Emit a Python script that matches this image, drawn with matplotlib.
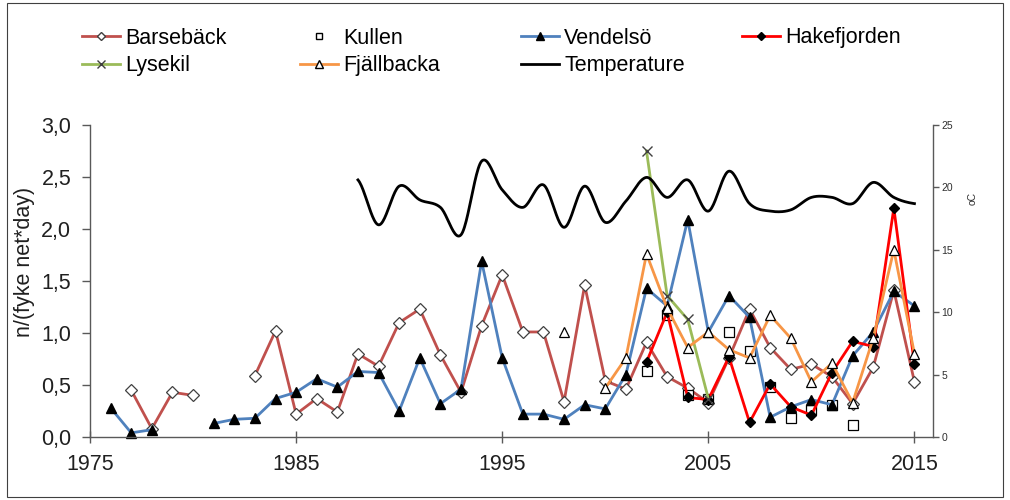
import numpy as np
import matplotlib
matplotlib.use("Agg")
import matplotlib.pyplot as plt
from matplotlib.lines import Line2D
from matplotlib.patches import Rectangle

plt.rcParams['font.family'] = ['Liberation Sans', 'DejaVu Sans']

nan = np.nan
years = np.arange(1976, 2016)

# catch per fyke net and day, one value per year 1976-2015 (nan = no sampling)
barseback = [nan, 0.45, 0.08, 0.43, 0.40, nan, nan, 0.59, 1.02, 0.22,
             0.37, 0.24, 0.80, 0.68, 1.10, 1.23, 0.79, 0.43, 1.07, 1.56,
             1.01, 1.01, 0.34, 1.46, 0.54, 0.46, 0.91, 0.58, 0.47, 0.33,
             0.76, 1.23, 0.86, 0.65, 0.70, 0.58, 0.32, 0.67, 1.41, 0.53]
vendelso = [0.28, 0.04, 0.07, nan, nan, 0.13, 0.17, 0.18, 0.37, 0.43,
            0.56, 0.48, 0.63, 0.62, 0.25, 0.76, 0.32, 0.46, 1.69, 0.76,
            0.22, 0.22, 0.17, 0.31, 0.27, 0.60, 1.43, 1.26, 2.09, 1.01,
            1.36, 1.15, 0.19, 0.29, 0.36, 0.31, 0.78, 1.01, 1.40, 1.26]

late_years = np.arange(2002, 2016)
kullen = [0.63, 1.17, 0.40, 0.37, 1.01, 0.83, 0.48, 0.18, 0.26, 0.31, 0.12,
          nan, nan, nan]
hakefjorden = [0.72, 1.20, 0.38, 0.36, 0.77, 0.14, 0.51, 0.29, 0.21, 0.62,
               0.92, 0.87, 2.20, 0.70]
lysekil = [2.75, 1.36, 1.13, 0.37, nan, nan, nan, nan, nan, nan, nan,
           nan, nan, nan]

fj_years = np.arange(1998, 2016)
fjallbacka = [1.01, nan, 0.47, 0.76, 1.76, 1.24, 0.86, 1.01, 0.84, 0.76,
              1.17, 0.95, 0.53, 0.71, 0.33, 0.95, 1.80, 0.80]

# summer water temperature, degrees C
temp_years = np.arange(1988, 2016)
temperature = [20.6, 17.0, 20.1, 19.0, 18.4, 16.2, 22.1, 19.8, 18.4, 20.2,
               16.8, 20.1, 17.2, 18.9, 20.8, 19.2, 20.6, 18.1, 21.3, 18.7,
               18.1, 18.2, 19.2, 19.2, 18.7, 20.4, 19.2, 18.7]


def smooth(x, y, n=24):
    # catmull-rom curve through the yearly points, like excel's smoothed line
    x = np.asarray(x, float)
    y = np.asarray(y, float)
    px = np.concatenate([[2 * x[0] - x[1]], x, [2 * x[-1] - x[-2]]])
    py = np.concatenate([[y[0]], y, [y[-1]]])
    t = np.linspace(0, 1, n, endpoint=False)[:, None]
    out = []
    for p in (px, py):
        p0, p1, p2, p3 = p[:-3], p[1:-2], p[2:-1], p[3:]
        seg = 0.5 * (2 * p1 + (-p0 + p2) * t
                     + (2 * p0 - 5 * p1 + 4 * p2 - p3) * t ** 2
                     + (-p0 + 3 * p1 - 3 * p2 + p3) * t ** 3)
        out.append(np.concatenate([seg.T.ravel(), [p[-2]]]))
    return out


fig = plt.figure(figsize=(10.1, 5), dpi=100)
ax = fig.add_axes([90 / 1010, 1 - 437 / 500, (933 - 90) / 1010, (437 - 125) / 500])
ax2 = ax.twinx()

c_bars = '#C0504D'
c_vend = '#4F81BD'
c_hake = '#FF0000'
c_lyse = '#9BBB59'
c_fjal = '#F79646'
lw = 2.0

ax.plot(years, barseback, color=c_bars, lw=lw, marker='D', ms=6,
        mfc='white', mec='#404040', mew=0.9, clip_on=False)
ax.plot(late_years, kullen, ls='none', marker='s', ms=6.5, mfc='white',
        mec='black', mew=0.9, clip_on=False)
ax.plot(years, vendelso, color=c_vend, lw=lw, marker='^', ms=7.2,
        mfc='black', mec='black', clip_on=False)
ax.plot(late_years, hakefjorden, color=c_hake, lw=lw, marker='D', ms=5,
        mfc='black', mec='black', clip_on=False)
ax.plot(late_years, lysekil, color=c_lyse, lw=lw, marker='x', ms=7.5,
        mec='#404040', mew=1.0, clip_on=False)
ax.plot(fj_years, fjallbacka, color=c_fjal, lw=lw, marker='^', ms=7.8,
        mfc='white', mec='black', mew=0.9, clip_on=False)

sx, sy = smooth(temp_years, temperature)
ax2.plot(sx, sy, color='black', lw=2.0)

axis_col = '#595959'
ax.set_xlim(1975, 2015.9)
ax.set_ylim(0, 3.0)
ax.set_xticks([1975, 1985, 1995, 2005, 2015])
ax.set_yticks(np.arange(0, 3.01, 0.5))
ax.set_yticklabels([f'{v:.1f}'.replace('.', ',') for v in np.arange(0, 3.01, 0.5)])
ax.tick_params(axis='y', direction='out', length=5.5, width=1, color=axis_col,
               pad=8, labelsize=15.5, labelcolor='#202020')
ax.tick_params(axis='x', direction='inout', length=9, width=1, color=axis_col,
               pad=8, labelsize=15.5, labelcolor='#202020')
for s in ('top', 'right'):
    ax.spines[s].set_visible(False)
for s in ('left', 'bottom'):
    ax.spines[s].set_color(axis_col)
    ax.spines[s].set_linewidth(1)

ax2.set_ylim(0, 25)
ax2.set_yticks(range(0, 26, 5))
ax2.tick_params(axis='y', direction='out', length=4, width=1, color=axis_col,
                pad=2, labelsize=7.5, labelcolor='#303030')
for s in ('top', 'left', 'bottom'):
    ax2.spines[s].set_visible(False)
ax2.spines['right'].set_color(axis_col)
ax2.spines['right'].set_linewidth(1)

fig.text(25 / 1010, 1 - 262 / 500, 'n/(fyke net*day)', rotation=90,
         ha='center', va='center', fontsize=15.5, color='#202020')
fig.text(973 / 1010, 1 - 198 / 500, 'oC', rotation=90,
         ha='center', va='center', fontsize=7.5, color='#303030')

# legend laid out on a fixed grid, one small legend per entry
entries = [
    ('Barsebäck', dict(color=c_bars, marker='D', ms=4, mfc='white', mec='#404040'), 82, 38),
    ('Kullen', dict(ls='none', marker='s', ms=5, mfc='white', mec='black'), 300, 38),
    ('Vendelsö', dict(color=c_vend, marker='^', ms=5.5, mfc='black', mec='black'), 521, 38),
    ('Hakefjorden', dict(color=c_hake, marker='D', ms=4, mfc='black', mec='black'), 742, 38),
    ('Lysekil', dict(color=c_lyse, marker='x', ms=5.5, mec='#404040'), 82, 66),
    ('Fjällbacka', dict(color=c_fjal, marker='^', ms=5.5, mfc='white', mec='black'), 300, 66),
    ('Temperature', dict(color='black'), 521, 66),
]
for label, style, lx, ly in entries:
    h = Line2D([], [], lw=2.0, **style)
    fig.legend([h], [label], loc='center left',
               bbox_to_anchor=(lx / 1010, 1 - ly / 500), frameon=False,
               fontsize=15.5, handlelength=1.75, handletextpad=0.25,
               borderpad=0, borderaxespad=0)

fig.patches.append(Rectangle((7 / 1010, 3 / 500), 996 / 1010, 494 / 500,
                             transform=fig.transFigure, fill=False,
                             edgecolor='#404040', lw=0.8))

fig.savefig('out.png', dpi=100)
